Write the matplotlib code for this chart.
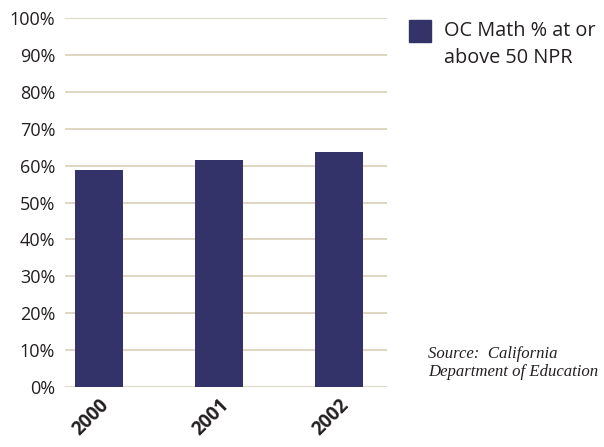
import matplotlib
matplotlib.use("Agg")
import matplotlib.pyplot as plt
from matplotlib.patches import Rectangle

# data
years = ["2000", "2001", "2002"]
pct_at_or_above = [58.8, 61.5, 63.7]
y_ticks = list(range(0, 101, 10))

BAR_COLOR = "#33336a"
GRID_COLOR = "#ddd3bd"
TEXT_COLOR = "#231f20"

plt.rcParams["font.family"] = ["Open Sans", "DejaVu Sans"]

fig = plt.figure(figsize=(6.04, 4.47), dpi=100)
ax = fig.add_axes([65 / 604, 1 - 387 / 447, 322 / 604, 369 / 447])

for t in y_ticks:
    ax.axhline(t, color=GRID_COLOR, linewidth=1.3, zorder=0)

x = range(len(years))
ax.bar(x, pct_at_or_above, width=0.4, color=BAR_COLOR, zorder=2)

ax.set_xlim(-0.283, 2.4)
ax.set_ylim(0, 100)
ax.set_yticks(y_ticks)
ax.set_yticklabels([f"{t}%" for t in y_ticks], fontsize=13, color=TEXT_COLOR)
ax.set_xticks(list(x))
ax.set_xticklabels(years, rotation=45, ha="right", rotation_mode="anchor",
                   fontsize=13.5, fontweight="bold", color=TEXT_COLOR)
ax.tick_params(axis="both", length=0)
ax.tick_params(axis="y", pad=7)
ax.tick_params(axis="x", pad=6)
for s in ax.spines.values():
    s.set_visible(False)

# legend
fig.patches.append(Rectangle((409 / 604, 1 - 42 / 447), 22 / 604, 22 / 447,
                             transform=fig.transFigure, color=BAR_COLOR))
fig.text(444 / 604, 1 - 44.5 / 447, "OC Math % at or\nabove 50 NPR",
         fontsize=14.3, color=TEXT_COLOR, va="center", ha="left", linespacing=1.5)

# source note
fig.text(428 / 604, 1 - 363 / 447, "Source:  California\nDepartment of Education",
         family="Liberation Serif", style="italic", fontsize=12.1,
         color=TEXT_COLOR, va="center", ha="left", linespacing=1.2)

fig.savefig("out.png", dpi=100)
